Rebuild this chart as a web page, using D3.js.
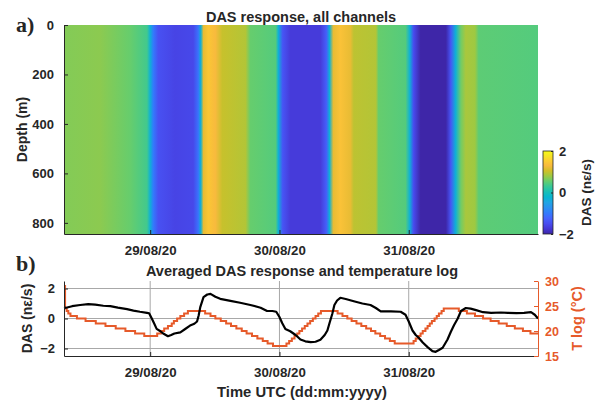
<!DOCTYPE html>
<html><head><meta charset="utf-8">
<script src="https://cdn.jsdelivr.net/npm/d3@7"></script>
<style>
body{margin:0;background:#fff}
text{font-family:"Liberation Sans",Arial,sans-serif;font-weight:bold;fill:#262626}
</style>
</head><body>
<svg id="chart" width="595" height="403"></svg>
<script>
// ---------------- data ----------------
const startTime = Date.UTC(2020, 7, 28, 8, 0);   // 28/08/20 08:00 UTC
const endHours = 88;
const dayTickDates = [Date.UTC(2020,7,29), Date.UTC(2020,7,30), Date.UTC(2020,7,31)];
const dayTickLabels = ["29/08/20", "30/08/20", "31/08/20"];
const depthTicks = [0, 200, 400, 600, 800];
const depthMax = 845;
const dasTicks = [-2, 0, 2];
const tempTicks = [15, 20, 25, 30];
const cbarTicks = [-2, 0, 2];

// DAS response of the channels (nε/s) as shown in the image, hours after start
const heatHours = [0,6.7,12.3,15.4,16.0,16.6,17.5,20.6,24.0,24.9,25.4,25.9,26.8,28.1,29.4,33.7,34.6,39.3,39.8,40.6,42.0,47.6,48.7,49.3,50.0,51.3,53.2,53.8,57.9,58.4,63.4,64.2,64.9,66.2,70.9,71.8,72.7,73.7,74.6,76.3,77.0,88.0];
const heatValues = [0.68,0.72,0.55,0.35,-0.3,-1.0,-1.45,-1.6,-1.55,-1.1,-0.3,1.2,1.45,1.3,1.0,0.9,0.55,0.45,-0.3,-1.4,-1.7,-1.7,-1.3,-0.3,1.2,1.4,1.2,0.95,0.9,0.55,0.45,-0.3,-1.5,-2.0,-2.1,-1.4,-0.3,0.6,0.85,0.8,0.5,0.45];

// averaged DAS response (nε/s), hours after start
const dasHours = [0,0.4,1.5,3.0,4.5,5.8,7.3,8.6,10.0,11.7,12.9,14.1,15.4,15.8,16.3,16.7,17.2,17.9,18.5,19.3,19.9,20.5,21.6,22.5,23.4,24.2,24.7,25.0,25.3,25.9,26.6,27.2,28.1,29.0,30.9,32.7,34.6,36.5,37.7,38.7,39.4,40.0,40.5,41.1,42.0,43.0,43.9,44.8,45.8,46.7,47.6,48.4,48.9,49.3,49.8,50.2,50.7,51.3,52.3,53.8,55.4,56.9,57.9,58.8,60.7,62.5,63.4,64.0,64.7,65.3,65.9,66.6,67.5,68.4,69.0,69.6,70.3,71.2,71.8,72.4,73.1,73.7,74.6,75.5,76.5,77.8,79.3,81.1,82.4,84.0,85.4,86.7,87.4,88.0];
const dasValues = [0.7,0.72,0.82,0.9,0.96,0.93,0.85,0.82,0.72,0.62,0.53,0.45,0.38,0.35,0.0,-0.3,-0.69,-0.85,-1.02,-1.18,-1.1,-1.0,-0.92,-0.7,-0.47,-0.35,-0.2,0.2,0.76,1.42,1.6,1.64,1.45,1.31,1.18,1.05,0.9,0.72,0.5,0.5,0.45,0.1,-0.3,-0.7,-0.85,-1.1,-1.4,-1.52,-1.58,-1.55,-1.42,-1.1,-0.8,-0.3,0.3,0.9,1.2,1.38,1.3,1.15,1.0,0.9,0.7,0.47,0.47,0.45,0.25,-0.2,-0.8,-1.1,-1.3,-1.6,-1.91,-2.18,-2.22,-2.1,-1.95,-1.4,-0.9,-0.45,0.0,0.5,0.7,0.66,0.56,0.42,0.38,0.4,0.38,0.36,0.38,0.42,0.25,0.0];

// temperature log (°C), change points, hours after start
const tempHours = [0,0.2,0.5,0.8,1.2,2.4,4.0,5.9,7.7,9.6,11.4,13.2,14.9,
  17.3,18.0,18.6,19.3,20.0,20.4,21.0,21.6,22.3,23.0,
  26.2,27.2,28.1,29.1,30.1,31.0,32.0,33.0,33.9,34.9,35.9,36.9,37.8,38.8,
  41.3,41.8,42.3,42.8,43.3,43.7,44.2,44.7,45.2,45.7,46.2,46.7,47.2,47.7,
  50.8,51.7,52.6,53.4,54.3,55.2,56.1,57.0,57.8,58.7,59.6,60.5,61.4,
  64.9,65.3,65.8,66.2,66.6,67.1,67.5,67.9,68.3,68.8,69.2,69.6,70.1,70.5,
  73.3,74.8,76.3,77.8,79.2,80.7,82.2,83.7,85.2,86.6,88];
const tempValues = [29,24.5,24,23.5,23,22.5,22,21.5,21,20.5,20,19.5,19,
  19.5,20,20.5,21,21.5,22,22.5,23,23.5,24,
  23.5,23,22.5,22,21.5,21,20.5,20,19.5,19,18.5,18,17.5,17,
  17.5,18,18.5,19,19.5,20,20.5,21,21.5,22,22.5,23,23.5,24,
  23.5,23,22.5,22,21.5,21,20.5,20,19.5,19,18.5,18,17.5,
  18,18.5,19,19.5,20,20.5,21,21.5,22,22.5,23,23.5,24,24.5,
  24,23.5,23,22.5,22,21.5,21,20.5,20,19.5,19.5];

// parula colormap (every 4th of 64 entries)
const parula = [[0.2422,0.1504,0.6603],[0.2706,0.2147,0.8364],[0.2813,0.3006,0.9414],[0.2699,0.3892,0.9906],
  [0.1963,0.4847,0.9892],[0.1687,0.5703,0.9359],[0.1248,0.6459,0.8883],[0.0297,0.7082,0.8163],
  [0.0964,0.7500,0.7120],[0.2161,0.7843,0.5923],[0.3909,0.8029,0.4354],[0.6174,0.7876,0.2612],
  [0.8203,0.7498,0.1535],[0.9728,0.7298,0.2394],[0.9892,0.8136,0.1885],[0.9597,0.9135,0.1423],[0.9769,0.9839,0.0805]];
const parulaPos = [0,4,8,12,16,20,24,28,32,36,40,44,48,52,56,60,63].map(i => i/63);

// ---------------- layout ----------------
const orange = "#e65a2a";
const axisColor = "#262626";
const gridColor = "#a8a8a8";
const pa = {l:64, r:538, t:25, b:234};
const pb = {l:64, r:538, t:281, b:356};
const cb = {l:543, r:553, t:151, b:234};
const fmt = d3.format("d");

const svg = d3.select("#chart");
const defs = svg.append("defs");
const toDate = h => new Date(startTime + h*3600e3);

const x = d3.scaleTime().domain([toDate(0), toDate(endHours)]).range([pa.l, pa.r]);
const yDepth = d3.scaleLinear().domain([0, depthMax]).range([pa.t, pa.b]);
const yDas = d3.scaleLinear().domain([-2.5, 2.5]).range([pb.b, pb.t]);
const yT = d3.scaleLinear().domain([15, 30]).range([pb.b, pb.t]);
const cmap = d3.scaleLinear().domain(parulaPos.map(p => -2 + 4*p))
  .range(parula.map(c => d3.rgb(c[0]*255, c[1]*255, c[2]*255).toString())).clamp(true);
const yCb = d3.scaleLinear().domain([-2, 2]).range([cb.b, cb.t]);

function styleText(g, size, color) {
  g.selectAll("text").attr("font-size", size).attr("font-family","Liberation Sans, Arial, sans-serif")
    .attr("font-weight","bold").style("fill", color || "#262626");
}

// ---------------- panel a: heatmap ----------------
const gradH = defs.append("linearGradient").attr("id","heat")
  .attr("gradientUnits","userSpaceOnUse")
  .attr("x1", x(toDate(0))).attr("x2", x(toDate(endHours))).attr("y1",0).attr("y2",0);
const span = x(toDate(endHours)) - x(toDate(0));
heatHours.forEach((h,i) => {
  gradH.append("stop").attr("offset", (x(toDate(h)) - x(toDate(0)))/span)
    .attr("stop-color", cmap(heatValues[i]));
});
svg.append("rect").attr("x", pa.l).attr("y", yDepth(0))
  .attr("width", pa.r - pa.l).attr("height", yDepth(depthMax) - yDepth(0))
  .attr("fill","url(#heat)");

const axA_left = svg.append("g").attr("transform",`translate(${pa.l},0)`)
  .call(d3.axisLeft(yDepth).tickValues(depthTicks).tickFormat(fmt).tickSizeInner(-4).tickSizeOuter(0).tickPadding(10));
const axA_bottom = svg.append("g").attr("transform",`translate(0,${pa.b})`)
  .call(d3.axisBottom(x).tickValues(dayTickDates.map(d=>new Date(d))).tickFormat((d,i)=>dayTickLabels[i])
    .tickSizeInner(-4).tickSizeOuter(0).tickPadding(12));
[axA_left, axA_bottom].forEach(g => g.selectAll("path,line").attr("stroke", axisColor));
styleText(axA_left, 13); styleText(axA_bottom, 13.3);

svg.append("text").attr("x", 301).attr("y", 22).attr("text-anchor","middle").attr("font-size",14.5)
  .text("DAS response, all channels");
svg.append("text").attr("transform",`translate(27,${(pa.t+pa.b)/2}) rotate(-90)`).attr("text-anchor","middle")
  .attr("font-size",14).text("Depth (m)");
svg.append("text").attr("x",16).attr("y",32).attr("font-size",22)
  .style("font-family","'Liberation Serif','Times New Roman',serif").text("a)");

// colorbar
const gradC = defs.append("linearGradient").attr("id","cbar")
  .attr("x1",0).attr("x2",0).attr("y1",1).attr("y2",0);
parulaPos.forEach((p,i) => gradC.append("stop").attr("offset", p)
  .attr("stop-color", d3.rgb(parula[i][0]*255, parula[i][1]*255, parula[i][2]*255).toString()));
svg.append("rect").attr("x", cb.l).attr("y", cb.t).attr("width", cb.r-cb.l).attr("height", cb.b-cb.t)
  .attr("fill","url(#cbar)").attr("stroke", axisColor).attr("stroke-width",0.8);
const axC = svg.append("g").attr("transform",`translate(${cb.r},0)`)
  .call(d3.axisRight(yCb).tickValues(cbarTicks).tickFormat(fmt).tickSizeInner(-2).tickSizeOuter(0).tickPadding(6));
axC.select(".domain").remove();
axC.selectAll("line").attr("stroke", axisColor);
styleText(axC, 13);
svg.append("text").attr("transform",`translate(591,${(cb.t+cb.b)/2}) rotate(-90)`).attr("text-anchor","middle")
  .attr("font-size",13.5).text("DAS (nε/s)");

// ---------------- panel b ----------------
svg.append("g").selectAll("line").data(dasTicks).join("line")
  .attr("x1", pb.l).attr("x2", pb.r).attr("y1", d=>yDas(d)).attr("y2", d=>yDas(d))
  .attr("stroke", gridColor).attr("stroke-width",1);
svg.append("g").selectAll("line").data(dayTickDates).join("line")
  .attr("x1", d=>x(new Date(d))).attr("x2", d=>x(new Date(d))).attr("y1", pb.t).attr("y2", pb.b)
  .attr("stroke", gridColor).attr("stroke-width",1);

const tempLine = d3.line().x((h)=>x(toDate(h))).y((h,i)=>yT(tempValues[i])).curve(d3.curveStepAfter);
svg.append("path").attr("d", tempLine(tempHours)).attr("fill","none").attr("stroke", orange).attr("stroke-width",2);
const dasLine = d3.line().x((h)=>x(toDate(h))).y((h,i)=>yDas(dasValues[i])).curve(d3.curveLinear);
svg.append("path").attr("d", dasLine(dasHours)).attr("fill","none").attr("stroke","#000").attr("stroke-width",2.2)
  .attr("stroke-linejoin","round");

const axB_left = svg.append("g").attr("transform",`translate(${pb.l},0)`)
  .call(d3.axisLeft(yDas).tickValues(dasTicks).tickFormat(fmt).tickSizeInner(-4).tickSizeOuter(0).tickPadding(9));
const axB_bottom = svg.append("g").attr("transform",`translate(0,${pb.b})`)
  .call(d3.axisBottom(x).tickValues(dayTickDates.map(d=>new Date(d))).tickFormat((d,i)=>dayTickLabels[i])
    .tickSizeInner(-4).tickSizeOuter(0).tickPadding(12));
[axB_left, axB_bottom].forEach(g => g.selectAll("path,line").attr("stroke", axisColor));
styleText(axB_left, 13); styleText(axB_bottom, 13.3);
const axB_right = svg.append("g").attr("transform",`translate(${pb.r},0)`)
  .call(d3.axisRight(yT).tickValues(tempTicks).tickFormat(fmt).tickSizeInner(-4).tickSizeOuter(0).tickPadding(7));
axB_right.selectAll("path,line").attr("stroke", orange);
styleText(axB_right, 12.5, orange);

svg.append("text").attr("x", 302).attr("y", 275.5).attr("text-anchor","middle").attr("font-size",14.5)
  .text("Averaged DAS response and temperature log");
svg.append("text").attr("transform",`translate(32,${(pb.t+pb.b)/2}) rotate(-90)`).attr("text-anchor","middle")
  .attr("font-size",14).text("DAS (nε/s)");
svg.append("text").attr("transform",`translate(582,${(pb.t+pb.b)/2}) rotate(-90)`).attr("text-anchor","middle")
  .attr("font-size",14.5).style("fill", orange).text("T log (°C)");
svg.append("text").attr("x", 302).attr("y", 396.5).attr("text-anchor","middle").attr("font-size",14.8)
  .text("Time UTC (dd:mm:yyyy)");
svg.append("text").attr("x",16).attr("y",271).attr("font-size",22)
  .style("font-family","'Liberation Serif','Times New Roman',serif").text("b)");
</script>
</body></html>
